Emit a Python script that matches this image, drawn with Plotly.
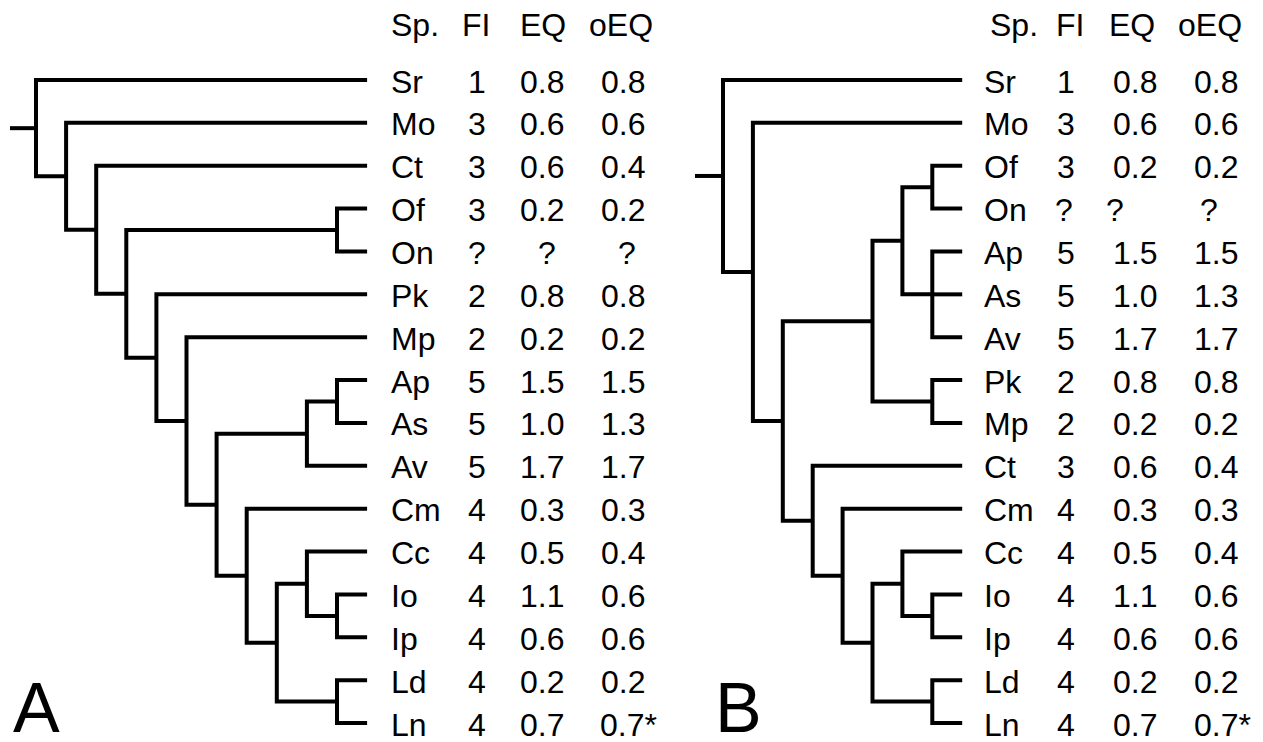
import plotly.graph_objects as go

# ---------------- data ----------------
species = ["Sr", "Mo", "Ct", "Of", "On", "Pk", "Mp", "Ap", "As", "Av",
           "Cm", "Cc", "Io", "Ip", "Ld", "Ln"]
FI = ["1", "3", "3", "3", "?", "2", "2", "5", "5", "5", "4", "4", "4", "4", "4", "4"]
EQ = ["0.8", "0.6", "0.6", "0.2", "?", "0.8", "0.2", "1.5", "1.0", "1.7",
      "0.3", "0.5", "1.1", "0.6", "0.2", "0.7"]
oEQ = ["0.8", "0.6", "0.4", "0.2", "?", "0.8", "0.2", "1.5", "1.3", "1.7",
       "0.3", "0.4", "0.6", "0.6", "0.2", "0.7*"]
headers = ["Sp.", "FI", "EQ", "oEQ"]
panel_labels = ["A", "B"]

# shared sub-clades
clade_C = (("Cc", ("Io", "Ip")), ("Ld", "Ln"))
# tree A topology
tree_A = ("Sr", ("Mo", ("Ct", (("Of", "On"),
          ("Pk", ("Mp", ((("Ap", "As"), "Av"), ("Cm", clade_C))))))))
# tree B topology
tree_B = ("Sr", ("Mo", (((("Of", "On"), ("Ap", "As", "Av")), ("Pk", "Mp")),
          ("Ct", ("Cm", clade_C)))))

# ---------------- layout parameters (page pixels) ----------------
W, H = 1263, 742
PAGE_MARGIN = 8          # default body margin of the html page
FONT = "Liberation Sans, Arial, sans-serif"
FS = 32
LW = 4
panels = [
    dict(tree=tree_A, x_root=36, x_step=30.1, y0=80, y_step=42.87, stub=26,
         sp_x=389, col_x=[476.5, 541.5, 622.5], q_x=[477, 547, 627],
         hdr_x=[389, 476, 543, 621], lab_x=36),
    dict(tree=tree_B, x_root=723, x_step=29.9, y0=80, y_step=42.87, stub=28,
         sp_x=982, col_x=[1066, 1135, 1216], q_x=[1064, 1115, 1209],
         hdr_x=[988, 1070, 1132, 1210], lab_x=738),
]
HDR_Y = 25
ROW_DY = 1.5
LAB_Y = 708


def leaves(t):
    return [t] if isinstance(t, str) else [l for c in t for l in leaves(c)]


def height(t):
    return 0 if isinstance(t, str) else 1 + max(height(c) for c in t)


fig = go.Figure()
annotations = []

for pi, p in enumerate(panels):
    tree = p["tree"]
    order = leaves(tree)
    Ht = height(tree)
    px = lambda d: p["x_root"] + p["x_step"] * d
    py = lambda i: p["y0"] + p["y_step"] * i
    xs, ys = [], []

    def place(t):
        if isinstance(t, str):
            return px(Ht), py(order.index(t))
        pts = [place(c) for c in t]
        x = px(Ht - height(t))
        y = (pts[0][1] + pts[-1][1]) / 2
        # elbow: first child -> node -> last child
        xs.extend([pts[0][0], x, x, pts[-1][0], None])
        ys.extend([pts[0][1], pts[0][1], pts[-1][1], pts[-1][1], None])
        for cx, cy in pts[1:-1]:
            xs.extend([x, cx, None])
            ys.extend([cy, cy, None])
        return x, y

    rx, ry = place(tree)
    xs.extend([rx - p["stub"], rx, None])
    ys.extend([ry, ry, None])
    fig.add_trace(go.Scatter(x=xs, y=ys, mode="lines",
                             line=dict(color="black", width=LW),
                             hoverinfo="skip", showlegend=False))

    # header
    for hi, h in enumerate(headers):
        annotations.append(dict(x=p["hdr_x"][hi], y=HDR_Y, text=h, showarrow=False,
                                xanchor="left" if hi == 0 else "center", yanchor="middle",
                                font=dict(family=FONT, size=FS, color="black")))
    # rows
    for i, sp in enumerate(order):
        k = species.index(sp)
        y = py(i) + ROW_DY
        annotations.append(dict(x=p["sp_x"], y=y, text=sp, showarrow=False,
                                xanchor="left", yanchor="middle",
                                font=dict(family=FONT, size=FS, color="black")))
        for ci, col in enumerate([FI, EQ, oEQ]):
            v = col[k]
            if v == "?":
                x, shift = p["q_x"][ci], 0
            elif v.endswith("*"):
                x, shift = p["col_x"][ci], 6
            else:
                x, shift = p["col_x"][ci], 0
            annotations.append(dict(x=x, y=y, text=v, showarrow=False, xshift=shift,
                                    xanchor="center", yanchor="middle",
                                    font=dict(family=FONT, size=FS, color="black")))
    annotations.append(dict(x=p["lab_x"], y=LAB_Y, text=panel_labels[pi], showarrow=False,
                            xanchor="center", yanchor="middle",
                            font=dict(family=FONT, size=70, color="black")))

fig.update_layout(
    width=W - PAGE_MARGIN, height=H - PAGE_MARGIN,
    margin=dict(l=0, r=0, t=0, b=0),
    paper_bgcolor="white", plot_bgcolor="white",
    xaxis=dict(range=[PAGE_MARGIN, W], visible=False, fixedrange=True),
    yaxis=dict(range=[H, PAGE_MARGIN], visible=False, fixedrange=True),
    annotations=annotations, showlegend=False,
)
fig.write_html("out.html", config={"displayModeBar": False})
